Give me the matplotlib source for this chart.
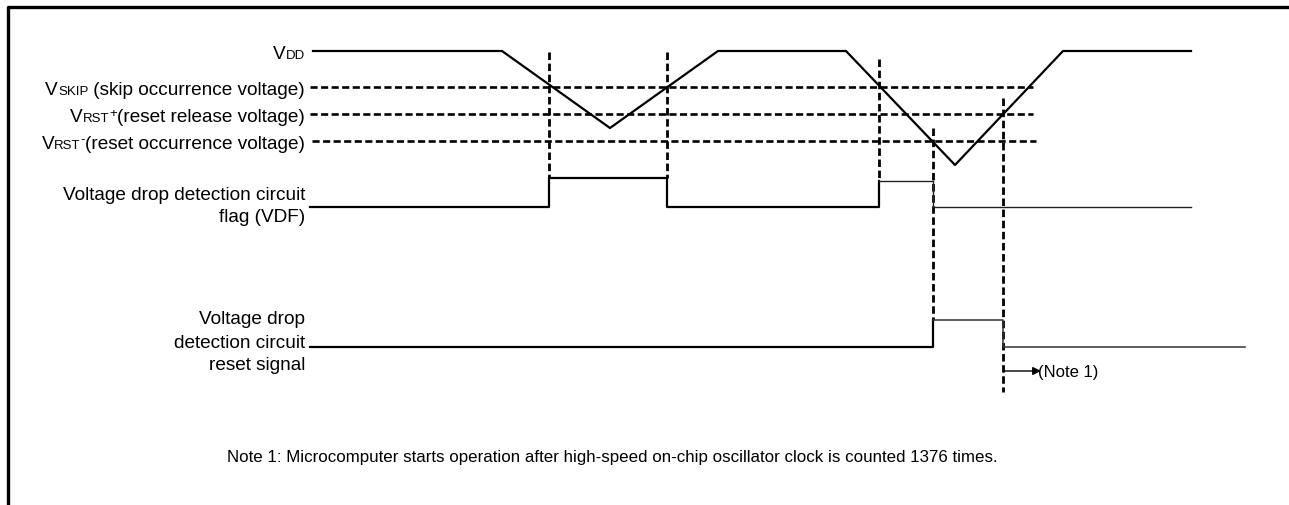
import matplotlib
matplotlib.use("Agg")
import matplotlib.pyplot as plt

plt.rcParams['font.family'] = ['Liberation Sans', 'DejaVu Sans']

# diagram levels (y, in diagram units, top = 0)
lvl_vdd = 52
lvl_skip = 88
lvl_rst_plus = 115
lvl_rst_minus = 142

# VDD waveform
vdd_t = [313, 502, 610, 718, 846, 955, 1063, 1191]
vdd_v = [52, 52, 129, 52, 52, 166, 52, 52]

# threshold lines: start / end
thr_levels = [lvl_skip, lvl_rst_plus, lvl_rst_minus]
thr_start = [310, 310, 312]
thr_end = [1033, 1033, 1036]

# VDF flag (step, where='post')
flag_t1 = [310, 549, 667, 879]
flag_v1 = [208, 179, 208, 182]
flag_t2 = [879, 933, 1191]
flag_v2 = [182, 208, 208]

# reset signal
rst_t1 = [310, 933]
rst_v1 = [348, 321]
rst_t2 = [933, 1003, 1245]
rst_v2 = [321, 348, 348]

# vertical dashed timing markers
mark_t = [549, 667, 879, 933, 1003]
mark_top = [53, 53, 60, 129, 99]
mark_bot = [179, 179, 182, 321, 393]

note_arrow_y = 372
note_arrow_x = [1003, 1041]

W, H = 1289, 506
fig = plt.figure(figsize=(W / 100, H / 100), dpi=100)
ax = fig.add_axes([0, 0, 1, 1])
ax.set_xlim(0, W)
ax.set_ylim(H, 0)
ax.axis('off')

# frame (top and left only visible)
ax.plot([8, 8, W], [H, 8, 8], color='black', lw=2.4, solid_capstyle='butt')

dash = (0, (2.7, 1.3))
ax.plot(vdd_t, vdd_v, color='black', lw=1.6)
for lv, x0, x1 in zip(thr_levels, thr_start, thr_end):
    ax.plot([x0, x1], [lv, lv], color='black', lw=1.9, linestyle=dash)
for t, y0, y1 in zip(mark_t, mark_top, mark_bot):
    ax.plot([t, t], [y0, y1], color='black', lw=2.0, linestyle=dash)

ax.step(flag_t1, flag_v1, where='post', color='black', lw=1.6)
ax.step(flag_t2, flag_v2, where='post', color='#222222', lw=1.0)
ax.step(rst_t1, rst_v1, where='post', color='black', lw=1.6)
ax.step(rst_t2, rst_v2, where='post', color='#333333', lw=1.1)

ax.annotate('', xy=(note_arrow_x[1], note_arrow_y), xytext=(note_arrow_x[0], note_arrow_y),
            arrowprops=dict(arrowstyle='-|>', color='black', lw=1.0,
                            mutation_scale=12, shrinkA=0, shrinkB=0))
ax.text(1038, note_arrow_y + 1, '(Note 1)', fontsize=12, ha='left', va='center')

renderer = fig.canvas.get_renderer()


def rich_label(x, y, parts):
    # parts: (text, size, raise) drawn right to left, right edge at x, baseline at y
    for text, size, dy in reversed(parts):
        t = ax.text(x, y - dy, text, fontsize=size, ha='right', va='baseline')
        bb = t.get_window_extent(renderer=renderer)
        x -= bb.width


big = 13.7
small = 9.5
lab_x = 305
rich_label(lab_x, lvl_vdd + 6.5, [('V', big, 0), ('DD', small, 0)])
rich_label(lab_x, lvl_skip + 6.5, [('V', big, 0), ('SKIP', small, 0),
                                   (' (skip occurrence voltage)', big, 0)])
rich_label(lab_x, lvl_rst_plus + 6.5, [('V', big, 0), ('RST', small, 0), ('+', small, 5),
                                       ('(reset release voltage)', big, 0)])
rich_label(lab_x, lvl_rst_minus + 6.5, [('V', big, 0), ('RST', small, 0), ('-', small, 5),
                                        ('(reset occurrence voltage)', big, 0)])

ax.text(lab_x, 195, 'Voltage drop detection circuit', fontsize=big, ha='right', va='center')
ax.text(lab_x, 218, 'flag (VDF)', fontsize=big, ha='right', va='center')

ax.text(lab_x, 320, 'Voltage drop', fontsize=big, ha='right', va='center')
ax.text(lab_x, 343, 'detection circuit', fontsize=big, ha='right', va='center')
ax.text(lab_x, 366, 'reset signal', fontsize=big, ha='right', va='center')

ax.text(227, 458, 'Note 1: Microcomputer starts operation after high-speed on-chip '
        'oscillator clock is counted 1376 times.', fontsize=12.2, ha='left', va='center')

fig.savefig('out.png', dpi=100)
